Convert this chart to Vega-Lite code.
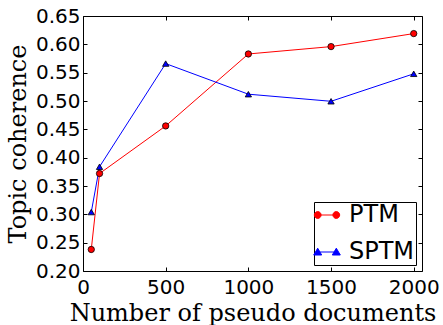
{
  "$schema": "https://vega.github.io/schema/vega-lite/v6.json",
  "width": 339,
  "height": 255,
  "autosize": "none",
  "padding": {"left": 83, "top": 16, "right": 21, "bottom": 54},
  "background": "white",
  "config": {
    "view": {"stroke": "black", "strokeWidth": 1},
    "axis": {
      "grid": false,
      "domain": false,
      "ticks": true,
      "tickColor": "black",
      "tickSize": -4,
      "tickWidth": 1,
      "labelFont": "DejaVu Sans",
      "labelFontSize": 20,
      "labelColor": "black",
      "labelFlush": false,
      "labelOverlap": false,
      "titleFont": "DejaVu Serif",
      "titleFontSize": 24,
      "titleFontWeight": "normal",
      "titleColor": "black"
    },
    "legend": {
      "orient": "bottom-right",
      "offset": 6,
      "strokeColor": "black",
      "fillColor": "white",
      "padding": 1,
      "rowPadding": 13,
      "symbolSize": 400,
      "symbolOpacity": 1,
      "symbolStrokeWidth": 1,
      "labelOffset": 10,
      "labelFont": "DejaVu Sans",
      "labelFontSize": 24,
      "labelColor": "black"
    }
  },
  "data": {
    "values": [
      {"n": 50, "model": "PTM", "c": 0.238},
      {"n": 100, "model": "PTM", "c": 0.372},
      {"n": 500, "model": "PTM", "c": 0.456},
      {"n": 1000, "model": "PTM", "c": 0.583},
      {"n": 1500, "model": "PTM", "c": 0.596},
      {"n": 2000, "model": "PTM", "c": 0.619},
      {"n": 50, "model": "SPTM", "c": 0.304},
      {"n": 100, "model": "SPTM", "c": 0.384},
      {"n": 500, "model": "SPTM", "c": 0.566},
      {"n": 1000, "model": "SPTM", "c": 0.512},
      {"n": 1500, "model": "SPTM", "c": 0.4995},
      {"n": 2000, "model": "SPTM", "c": 0.548}
    ]
  },
  "layer": [
    {
      "mark": {"type": "line", "strokeWidth": 1},
      "encoding": {
        "x": {
          "field": "n", "type": "quantitative",
          "scale": {"domain": [0, 2050], "nice": false},
          "axis": {"orient": "bottom", "values": [0, 500, 1000, 1500, 2000], "format": "d", "title": "Number of pseudo documents", "labelPadding": 10, "titlePadding": 4}
        },
        "y": {
          "field": "c", "type": "quantitative",
          "scale": {"domain": [0.2, 0.65], "nice": false, "zero": false},
          "axis": {"orient": "left", "values": [0.2, 0.25, 0.3, 0.35, 0.4, 0.45, 0.5, 0.55, 0.6, 0.65], "format": ".2f", "title": "Topic coherence", "labelPadding": 7, "titlePadding": 5}
        },
        "color": {
          "field": "model", "type": "nominal",
          "scale": {"range": ["#ff0000", "#0000ff"]},
          "legend": null
        }
      }
    },
    {
      "mark": {"type": "point", "filled": true, "stroke": "black", "strokeWidth": 0.8, "opacity": 1, "size": 40},
      "encoding": {
        "x": {
          "field": "n", "type": "quantitative",
          "scale": {"domain": [0, 2050], "nice": false},
          "axis": {"orient": "top", "values": [0, 500, 1000, 1500, 2000], "labels": false, "title": null}
        },
        "y": {
          "field": "c", "type": "quantitative",
          "scale": {"domain": [0.2, 0.65], "nice": false, "zero": false},
          "axis": {"orient": "right", "values": [0.2, 0.25, 0.3, 0.35, 0.4, 0.45, 0.5, 0.55, 0.6, 0.65], "labels": false, "title": null}
        },
        "fill": {
          "field": "model", "type": "nominal",
          "scale": {"range": ["#ff0000", "#0000ff"]},
          "legend": null
        },
        "shape": {
          "field": "model", "type": "nominal",
          "scale": {"range": ["circle", "triangle-up"]},
          "legend": null
        }
      }
    },
    {
      "transform": [{"filter": "false"}],
      "mark": {"type": "point", "filled": true},
      "encoding": {
        "x": {"field": "n", "type": "quantitative", "scale": {"domain": [0, 2050], "nice": false}, "axis": null},
        "y": {"field": "c", "type": "quantitative", "scale": {"domain": [0.2, 0.65], "nice": false, "zero": false}, "axis": null},
        "fill": {
          "field": "model", "type": "nominal",
          "scale": {"domain": ["PTM", "SPTM"], "range": ["#ff0000", "#0000ff"]},
          "legend": {"title": null}
        },
        "stroke": {
          "field": "model", "type": "nominal",
          "scale": {"domain": ["PTM", "SPTM"], "range": ["#ff0000", "#0000ff"]},
          "legend": {"title": null}
        },
        "shape": {
          "field": "model", "type": "nominal",
          "scale": {"domain": ["PTM", "SPTM"], "range": [
            "M-0.93,0L0.93,0M-0.59,0A0.34,0.34,0,1,1,-1.27,0A0.34,0.34,0,1,1,-0.59,0ZM1.27,0A0.34,0.34,0,1,1,0.59,0A0.34,0.34,0,1,1,1.27,0Z",
            "M-0.93,0L0.93,0M-1.33,0.3L-0.53,0.3L-0.93,-0.38ZM0.53,0.3L1.33,0.3L0.93,-0.38Z"
          ]},
          "legend": {"title": null}
        }
      }
    }
  ],
  "resolve": {
    "axis": {"x": "independent", "y": "independent"},
    "scale": {"shape": "independent", "fill": "independent", "stroke": "independent"}
  }
}
